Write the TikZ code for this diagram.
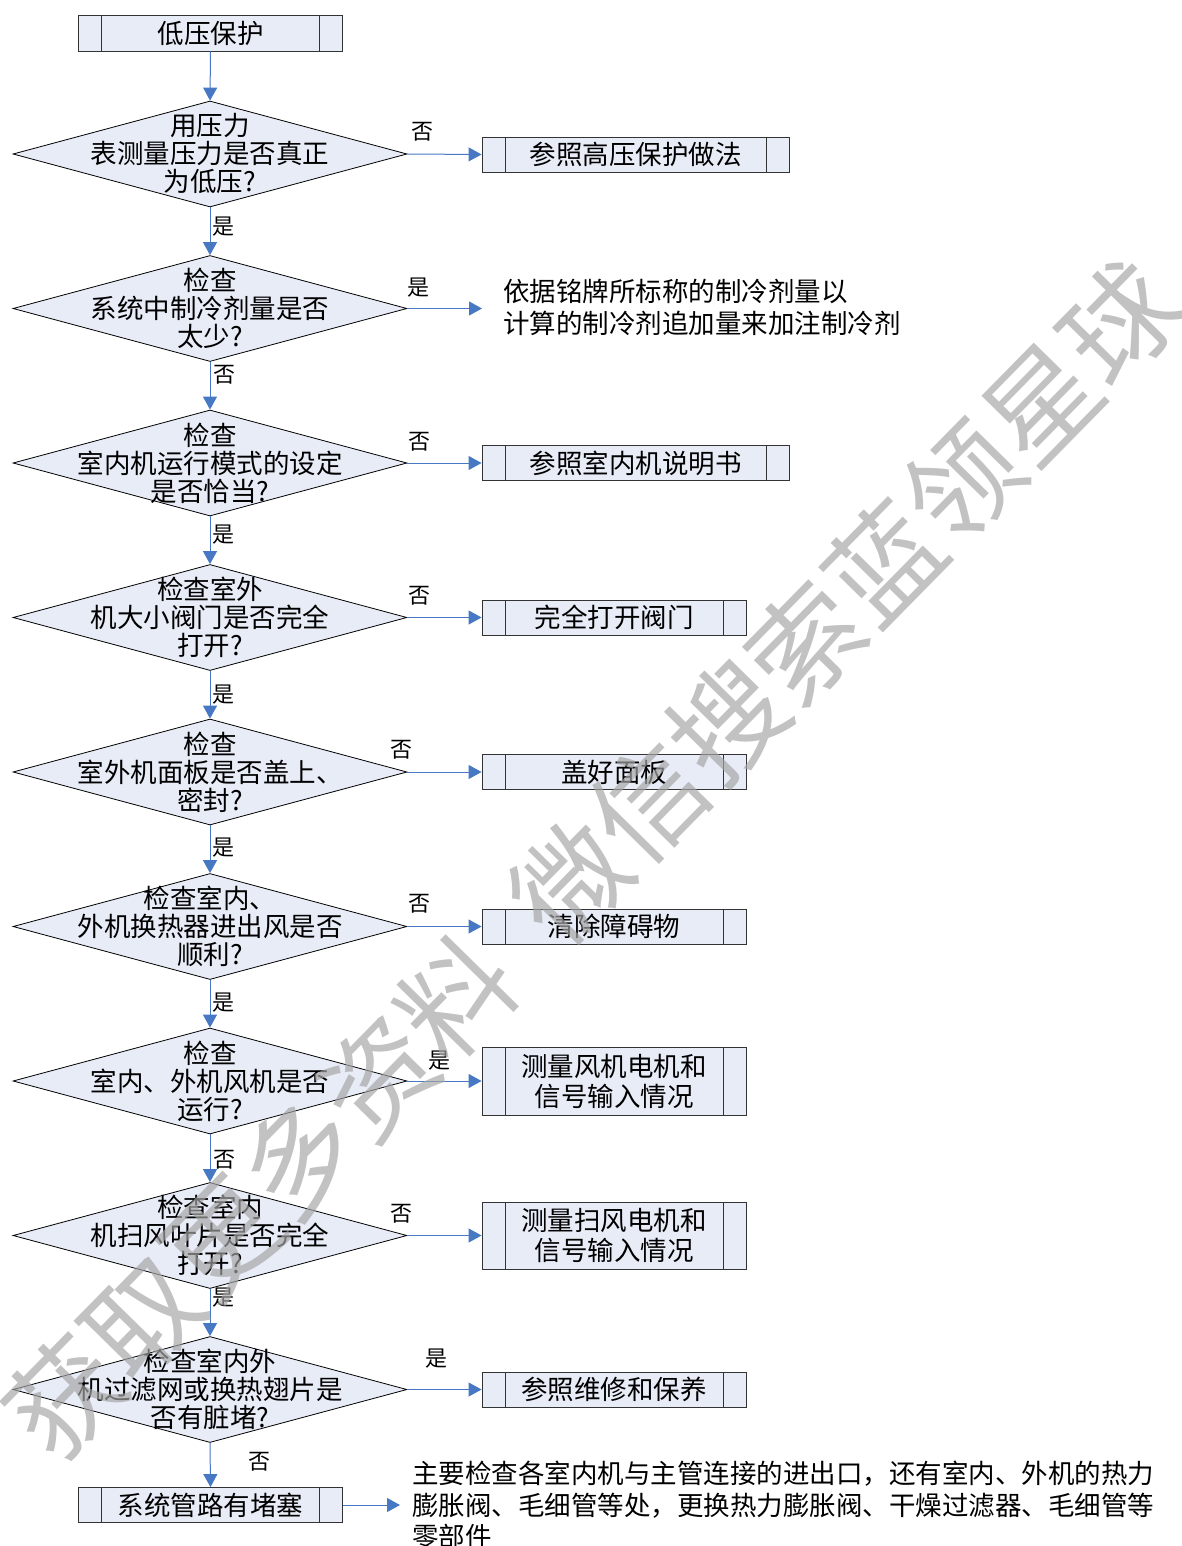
\documentclass[tikz,border=0pt]{standalone}
\usepackage{fontspec}
\setmainfont{Noto Sans CJK SC}
\usetikzlibrary{shapes.geometric,arrows.meta}
\definecolor{boxfill}{RGB}{232,236,247}
\definecolor{linkblue}{RGB}{70,120,195}
\definecolor{wmgray}{RGB}{165,165,165}
\begin{document}
\begin{tikzpicture}[x=1pt,y=-1pt,
  proc/.style={draw=black!80, fill=boxfill, line width=0.9pt, inner sep=0pt,
    font=\fontsize{26.5}{30}\selectfont, align=center,
    path picture={\draw[line width=0.9pt, black!80]
      ([xshift=23pt]path picture bounding box.north west) -- ([xshift=23pt]path picture bounding box.south west)
      ([xshift=-23pt]path picture bounding box.north east) -- ([xshift=-23pt]path picture bounding box.south east);}},
  dec/.style={diamond, draw=black, fill=boxfill, line width=0.8pt, inner sep=0pt,
    minimum width=394pt, minimum height=106pt},
  dtext/.style={font=\fontsize{26.5}{28}\selectfont, align=center, inner sep=0pt},
  note/.style={font=\fontsize{26.5}{31.5}\selectfont, align=left, inner sep=0pt, anchor=west},
  arr/.style={draw=linkblue, line width=1pt, -{Triangle[length=13pt,width=14pt]}},
  lbl/.style={font=\fontsize{22}{22}\selectfont, inner sep=0pt},
  wmark/.style={font=\fontsize{112}{112}\selectfont, text=wmgray, opacity=0.68, inner sep=0pt}
]
\useasboundingbox (0,0) rectangle (1181,1546);

% main column
\node[proc, minimum width=264pt, minimum height=36pt] (s0) at (210.5,33) {低压保护};

\node[dec] (d1) at (210,154) {};
\node[dtext] (d1t) at (d1) {用压力\\表测量压力是否真正\\为低压?};
\node[proc, minimum width=307pt, minimum height=35pt] (r1) at (635.5,154.5) {参照高压保护做法};

\node[dec] (d2) at (210,308.5) {};
\node[dtext] (d2t) at (d2) {检查\\系统中制冷剂量是否\\太少?};
\coordinate (c2) at (482,308.5);
\node[note] (t2) at (503,307.5) {依据铭牌所标称的制冷剂量以\\计算的制冷剂追加量来加注制冷剂};

\node[dec] (d3) at (210,463) {};
\node[dtext] (d3t) at (d3) {检查\\室内机运行模式的设定\\是否恰当?};
\node[proc, minimum width=307pt, minimum height=35pt] (r3) at (635.5,463) {参照室内机说明书};

\node[dec] (d4) at (210,617.5) {};
\node[dtext] (d4t) at (d4) {检查室外\\机大小阀门是否完全\\打开?};
\node[proc, minimum width=264pt, minimum height=35pt] (r4) at (614,617.5) {完全打开阀门};

\node[dec] (d5) at (210,772) {};
\node[dtext] (d5t) at (d5) {检查\\室外机面板是否盖上、\\密封?};
\node[proc, minimum width=264pt, minimum height=35pt] (r5) at (614,772) {盖好面板};

\node[dec] (d6) at (210,926.5) {};
\node[dtext] (d6t) at (d6) {检查室内、\\外机换热器进出风是否\\顺利?};
\node[proc, minimum width=264pt, minimum height=35pt] (r6) at (614,926.5) {清除障碍物};

\node[dec] (d7) at (210,1081) {};
\node[dtext] (d7t) at (d7) {检查\\室内、外机风机是否\\运行?};
\node[proc, minimum width=264pt, minimum height=68pt] (r7) at (614,1081) {测量风机电机和\\信号输入情况};

\node[dec] (d8) at (210,1235.5) {};
\node[dtext] (d8t) at (d8) {检查室内\\机扫风叶片是否完全\\打开?};
\node[proc, minimum width=264pt, minimum height=67pt] (r8) at (614,1235.5) {测量扫风电机和\\信号输入情况};

\node[dec] (d9) at (210,1389.5) {};
\node[dtext] (d9t) at (d9) {检查室内外\\机过滤网或换热翅片是\\否有脏堵?};
\node[proc, minimum width=264pt, minimum height=35pt] (r9) at (614,1389.5) {参照维修和保养};

\node[proc, minimum width=264pt, minimum height=35pt] (e0) at (210.5,1505) {系统管路有堵塞};
\coordinate (c0) at (400,1505);
\node[note] (bt) at (412,1505) {主要检查各室内机与主管连接的进出口，还有室内、外机的热力\\膨胀阀、毛细管等处，更换热力膨胀阀、干燥过滤器、毛细管等\\零部件};

% vertical connectors
\draw[arr] (s0.south) -- (d1.north);
\draw[arr] (d1.south) -- node[lbl, pos=0.4, xshift=13pt] {是} (d2.north);
\draw[arr] (d2.south) -- node[lbl, pos=0.27, xshift=14pt] {否} (d3.north);
\draw[arr] (d3.south) -- node[lbl, pos=0.38, xshift=13pt] {是} (d4.north);
\draw[arr] (d4.south) -- node[lbl, pos=0.5, xshift=13pt] {是} (d5.north);
\draw[arr] (d5.south) -- node[lbl, pos=0.47, xshift=13pt] {是} (d6.north);
\draw[arr] (d6.south) -- node[lbl, pos=0.48, xshift=13pt] {是} (d7.north);
\draw[arr] (d7.south) -- node[lbl, pos=0.53, xshift=14pt] {否} (d8.north);
\draw[arr] (d8.south) -- node[lbl, pos=0.19, xshift=13pt] {是} (d9.north);
\draw[arr] (d9.south) -- node[lbl, pos=0.42, xshift=49pt] {否} (e0.north);

% horizontal connectors
\draw[arr] (d1.east) -- node[lbl, pos=0.2, yshift=22pt] {否} (r1.west);
\draw[arr] (d2.east) -- node[lbl, pos=0.15, yshift=21pt] {是} (c2);
\draw[arr] (d3.east) -- node[lbl, pos=0.16, yshift=21pt] {否} (r3.west);
\draw[arr] (d4.east) -- node[lbl, pos=0.16, yshift=22pt] {否} (r4.west);
\draw[arr] (d5.east) -- node[lbl, pos=-0.08, yshift=22pt] {否} (r5.west);
\draw[arr] (d6.east) -- node[lbl, pos=0.16, yshift=23pt] {否} (r6.west);
\draw[arr] (d7.east) -- node[lbl, pos=0.43, yshift=20pt] {是} (r7.west);
\draw[arr] (d8.east) -- node[lbl, pos=-0.08, yshift=22pt] {否} (r8.west);
\draw[arr] (d9.east) -- node[lbl, pos=0.39, yshift=31pt] {是} (r9.west);
\draw[arr] (e0.east) -- (c0);

% watermark
\node[wmark, rotate=45.5] (wm) at (592,860) {获取更多资料\hspace{0.45em}微信搜索蓝领星球};
\end{tikzpicture}
\end{document}
